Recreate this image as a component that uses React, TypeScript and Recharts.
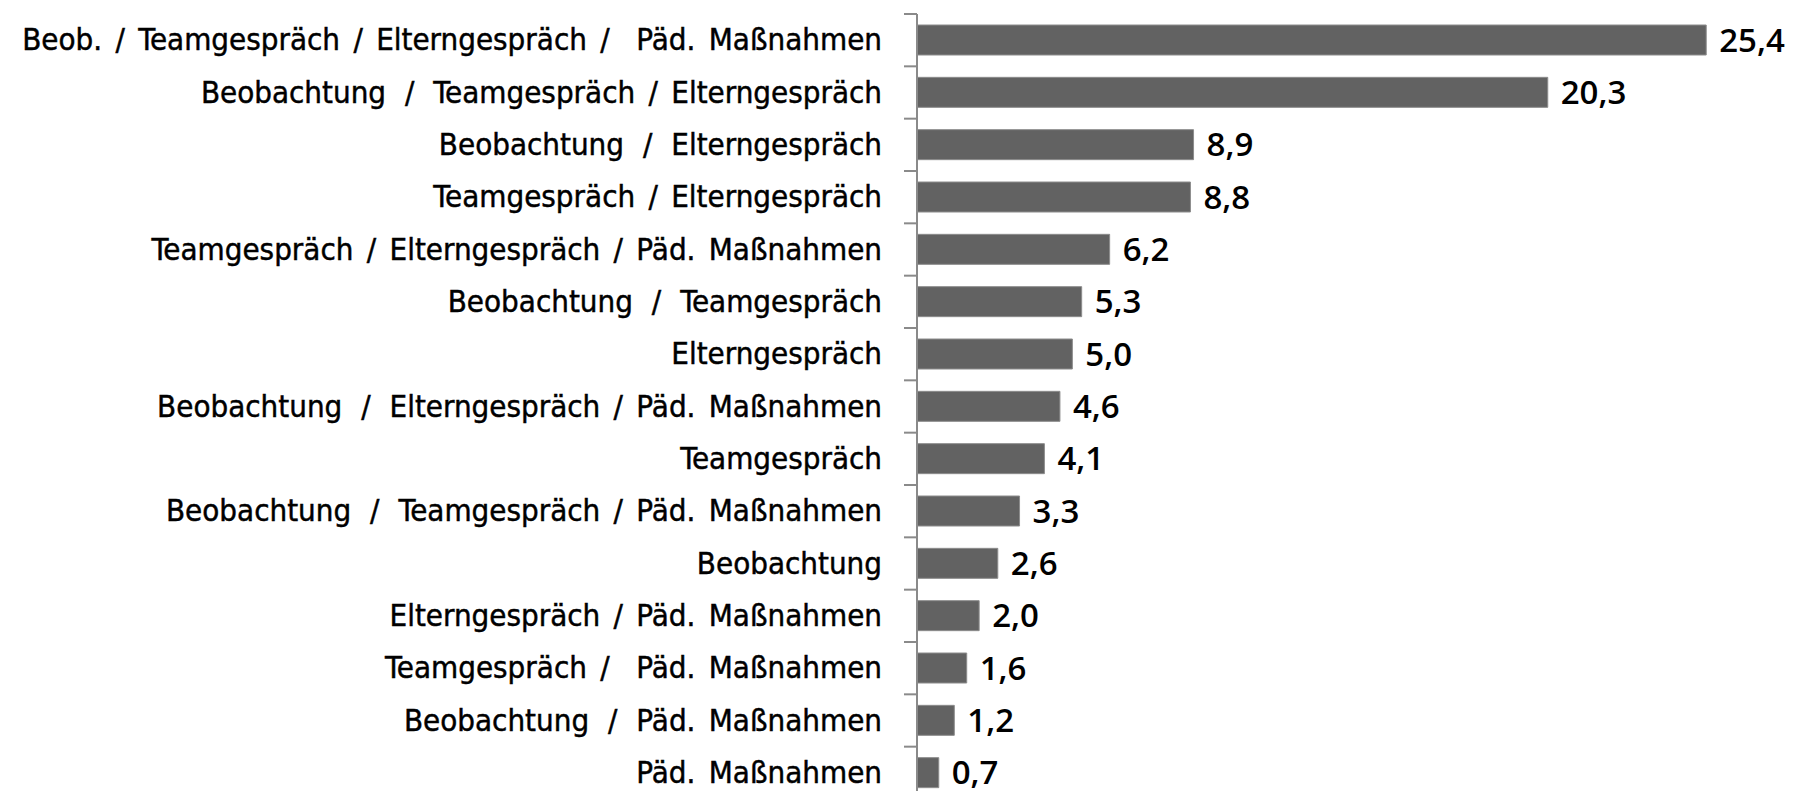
import { Bar, BarChart, LabelList, XAxis, YAxis } from "recharts";

// wider slash used after "Beobachtung" in the original labels
const WS = " \u2009/\u2009 ";

const categories = [
  "Beob. / Teamgespräch / Elterngespräch /  Päd. Maßnahmen",
  `Beobachtung${WS}Teamgespräch / Elterngespräch`,
  `Beobachtung${WS}Elterngespräch`,
  "Teamgespräch / Elterngespräch",
  "Teamgespräch / Elterngespräch / Päd. Maßnahmen",
  `Beobachtung${WS}Teamgespräch`,
  "Elterngespräch",
  `Beobachtung${WS}Elterngespräch / Päd. Maßnahmen`,
  "Teamgespräch",
  `Beobachtung${WS}Teamgespräch / Päd. Maßnahmen`,
  "Beobachtung",
  "Elterngespräch / Päd. Maßnahmen",
  "Teamgespräch /  Päd. Maßnahmen",
  `Beobachtung${WS}Päd. Maßnahmen`,
  "Päd. Maßnahmen",
];

const shares = [25.4, 20.3, 8.9, 8.8, 6.2, 5.3, 5.0, 4.6, 4.1, 3.3, 2.6, 2.0, 1.6, 1.2, 0.7];

const data = categories.map((name, i) => ({ name, value: shares[i] }));

const CHART_H = 799;
const TOP = 14;
const BAND = (CHART_H - TOP) / categories.length;

const labelFont = "'DejaVu Sans Condensed', 'DejaVu Sans', sans-serif";
const valueFont = "'Open Sans', sans-serif";

// category label plus the little tick at the top edge of each band
function CategoryTick(props: any) {
  const { x, y, payload } = props;
  const top = y - BAND / 2;
  return (
    <g>
      <line x1={x - 13} x2={x} y1={top} y2={top} stroke="#8a8a8a" strokeWidth={2} />
      <text
        x={x - 35}
        y={y + 10}
        textAnchor="end"
        fontFamily={labelFont}
        fontStretch="condensed"
        fontSize={31}
        fill="#000"
        stroke="#000"
        strokeWidth={0.45}
        style={{ whiteSpace: "pre", wordSpacing: 4.5 }}
      >
        {payload.value}
      </text>
    </g>
  );
}

export default function App() {
  return (
    <div style={{ position: "fixed", left: 0, top: 0, width: 1806, height: 791, overflow: "hidden", background: "#fff" }}>
      <BarChart
        width={1806}
        height={CHART_H}
        data={data}
        layout="vertical"
        margin={{ top: TOP, right: 19, bottom: 0, left: 0 }}
      >
        <XAxis type="number" domain={[0, 28]} hide />
        <YAxis
          type="category"
          dataKey="name"
          width={917}
          tickSize={0}
          tickMargin={0}
          tickLine={false}
          axisLine={{ stroke: "#8a8a8a", strokeWidth: 2 }}
          tick={<CategoryTick />}
          interval={0}
        />
        <Bar dataKey="value" fill="#626262" stroke="#8c8c8c" strokeWidth={1} barSize={30} isAnimationActive={false}>
          <LabelList
            dataKey="value"
            position="right"
            offset={13}
            formatter={(v: any) => Number(v).toFixed(1).replace(".", ",")}
            style={{ fontFamily: valueFont, fontSize: 33, fontWeight: 600, fill: "#000" }}
          />
        </Bar>
      </BarChart>
    </div>
  );
}
